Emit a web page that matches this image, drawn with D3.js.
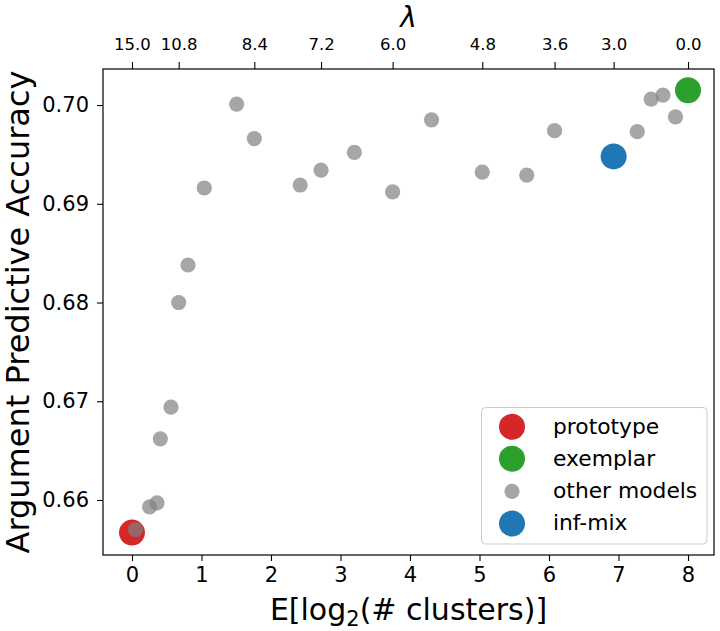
<!DOCTYPE html>
<html>
<head>
<meta charset="utf-8">
<script src="https://cdn.jsdelivr.net/npm/d3@7"></script>
<style>
  body { margin: 0; background: #fff; }
  svg { display: block; font-family: "DejaVu Sans", sans-serif; }
</style>
</head>
<body>
<svg id="chart" width="720" height="631"></svg>
<script>
// ---- data ----
const prototypeX = [0.0];
const prototypeY = [0.6567];
const exemplarX = [8.0];
const exemplarY = [0.7015];
const infmixX = [6.93];
const infmixY = [0.6948];
const otherX = [0.05, 0.254, 0.36, 0.408, 0.561, 0.672, 0.806, 1.04, 1.506, 1.76,
                2.42, 2.72, 3.20, 3.75, 4.31, 5.04, 5.68, 6.08, 7.27, 7.47, 7.64, 7.82];
const otherY = [0.6570, 0.6593, 0.6597, 0.6662, 0.6694, 0.6800, 0.6838, 0.6916, 0.7001, 0.6966,
                0.6919, 0.6934, 0.6952, 0.6912, 0.6985, 0.6932, 0.6929, 0.6974, 0.6973, 0.7006, 0.7010, 0.6988];
const xTicks = [0, 1, 2, 3, 4, 5, 6, 7, 8];
const yTicks = [0.66, 0.67, 0.68, 0.69, 0.70];
const lambdaLabels = ["15.0", "10.8", "8.4", "7.2", "6.0", "4.8", "3.6", "3.0", "0.0"];
const lambdaPos = [0.0, 0.672, 1.76, 2.72, 3.75, 5.04, 6.08, 6.93, 8.0];
const legendLabels = ["prototype", "exemplar", "other models", "inf-mix"];
const legendColors = ["#d62728", "#2ca02c", "#808080", "#1f77b4"];

// ---- layout ----
const L = 103, R = 714, T = 69, B = 555;
const svg = d3.select("#chart");
const x = d3.scaleLinear().domain([-0.417, 8.374]).range([L, R]);
const y = d3.scaleLinear().domain([0.65443, 0.70365]).range([B, T]);

const tickFont = "21px";

// bottom axis
const gx = svg.append("g").attr("transform", `translate(0,${B})`)
  .call(d3.axisBottom(x).tickValues(xTicks).tickFormat(d3.format("d")).tickSize(6).tickPadding(6));
// left axis
const gy = svg.append("g").attr("transform", `translate(${L},0)`)
  .call(d3.axisLeft(y).tickValues(yTicks).tickFormat(d3.format(".2f")).tickSize(6).tickPadding(8));
// top axis (lambda)
const gt = svg.append("g").attr("transform", `translate(0,${T})`)
  .call(d3.axisTop(x).tickValues(lambdaPos).tickFormat((d, i) => lambdaLabels[i]).tickSize(7).tickPadding(12));

[gx, gy, gt].forEach(g => {
  g.select(".domain").remove();
  g.selectAll(".tick line").attr("stroke", "#000").attr("stroke-width", 1.1);
  g.selectAll(".tick text").attr("fill", "#000").style("font-family", "DejaVu Sans").style("font-size", tickFont);
});
gt.selectAll(".tick text").style("font-size", "16.5px");

// frame
svg.append("rect").attr("x", L).attr("y", T).attr("width", R - L).attr("height", B - T)
  .attr("fill", "none").attr("stroke", "#000").attr("stroke-width", 1.2);

// points
const plot = svg.append("g");
plot.selectAll(".proto").data(prototypeX).join("circle")
  .attr("cx", d => x(d)).attr("cy", (d, i) => y(prototypeY[i])).attr("r", 13).attr("fill", legendColors[0]);
plot.selectAll(".exem").data(exemplarX).join("circle")
  .attr("cx", d => x(d)).attr("cy", (d, i) => y(exemplarY[i])).attr("r", 13).attr("fill", legendColors[1]);
plot.selectAll(".other").data(otherX).join("circle")
  .attr("cx", d => x(d)).attr("cy", (d, i) => y(otherY[i])).attr("r", 7.6)
  .attr("fill", legendColors[2]).attr("fill-opacity", 0.7);
plot.selectAll(".inf").data(infmixX).join("circle")
  .attr("cx", d => x(d)).attr("cy", (d, i) => y(infmixY[i])).attr("r", 13).attr("fill", legendColors[3]);

// axis labels
svg.append("text").attr("x", (L + R) / 2).attr("y", 620).attr("text-anchor", "middle")
  .style("font-size", "30px").attr("fill", "#000")
  .call(t => {
    t.append("tspan").text("E[log");
    t.append("tspan").text("2").style("font-size", "21px").attr("dy", 6);
    t.append("tspan").text("(# clusters)]").attr("dy", -6);
  });
svg.append("text").attr("transform", `translate(29,${(T + B) / 2}) rotate(-90)`)
  .attr("text-anchor", "middle").style("font-size", "32px").attr("fill", "#000")
  .text("Argument Predictive Accuracy");
svg.append("text").attr("x", (L + R) / 2).attr("y", 27).attr("text-anchor", "middle")
  .style("font-size", "28px").style("font-style", "italic").attr("fill", "#000").text("λ");

// legend
const lg = svg.append("g");
lg.append("rect").attr("x", 481.5).attr("y", 407.5).attr("width", 225.5).attr("height", 136.5)
  .attr("rx", 4).attr("fill", "#fff").attr("fill-opacity", 0.8).attr("stroke", "#cccccc").attr("stroke-width", 1);
const rowY = [426.8, 458.7, 491.3, 523.5];
legendLabels.forEach((lab, i) => {
  lg.append("circle").attr("cx", 512).attr("cy", rowY[i]).attr("r", i === 2 ? 7.6 : 13)
    .attr("fill", legendColors[i]).attr("fill-opacity", i === 2 ? 0.7 : 1);
  lg.append("text").attr("x", 553).attr("y", rowY[i]).attr("dy", "0.32em")
    .style("font-size", "21.8px").attr("fill", "#000").text(lab);
});
</script>
</body>
</html>
